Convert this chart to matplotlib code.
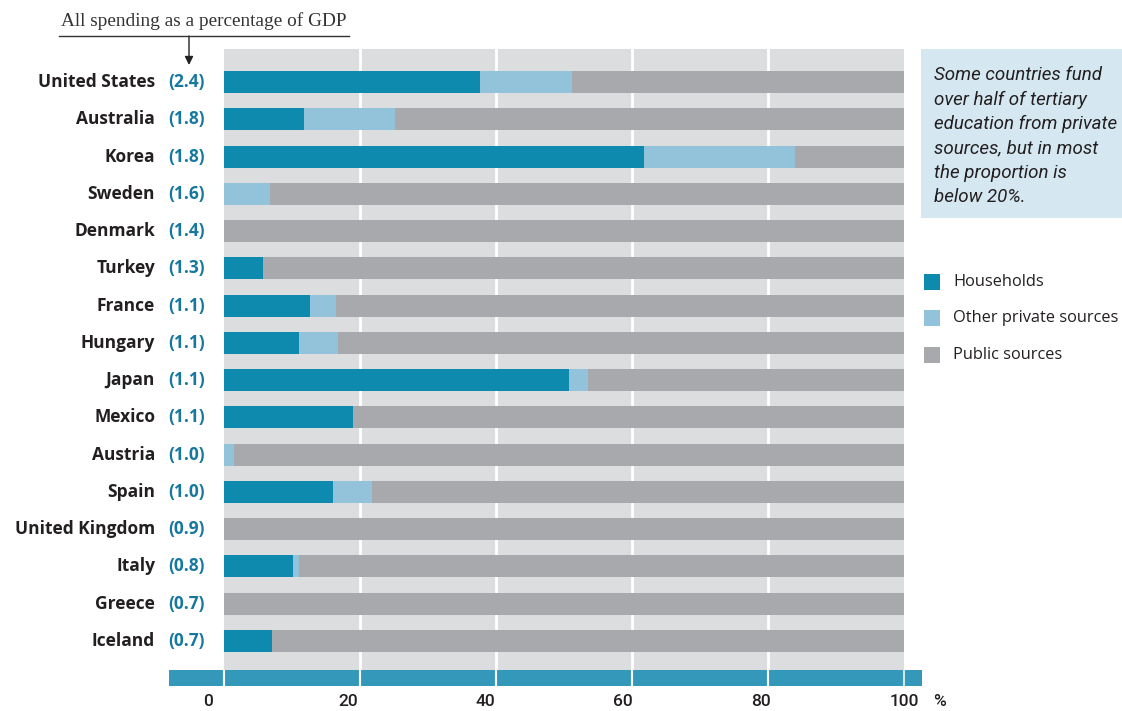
import matplotlib
matplotlib.use("Agg")
import matplotlib.pyplot as plt
import matplotlib.transforms as mtransforms
from matplotlib.patches import Rectangle, FancyArrowPatch
from matplotlib.lines import Line2D

countries = ["United States", "Australia", "Korea", "Sweden", "Denmark", "Turkey",
             "France", "Hungary", "Japan", "Mexico", "Austria", "Spain",
             "United Kingdom", "Italy", "Greece", "Iceland"]
gdp_labels = ["(2.4)", "(1.8)", "(1.8)", "(1.6)", "(1.4)", "(1.3)", "(1.1)", "(1.1)",
              "(1.1)", "(1.1)", "(1.0)", "(1.0)", "(0.9)", "(0.8)", "(0.7)", "(0.7)"]
households = [37.7, 11.8, 61.8, 0.0, 0.0, 5.7, 12.6, 11.1, 50.7, 19.0, 0.0, 16.1,
              0.0, 10.1, 0.0, 7.1]
other_private = [13.5, 13.3, 22.2, 6.8, 0.0, 0.0, 3.8, 5.7, 2.8, 0.0, 1.5, 5.7,
                 0.0, 1.0, 0.0, 0.0]
public = [100 - h - o for h, o in zip(households, other_private)]
xticks = [0, 20, 40, 60, 80, 100]
series_names = ["Households", "Other private sources", "Public sources"]

C_HH = "#0e8aae"
C_OT = "#93c3da"
C_PU = "#a8a9ad"
C_BG = "#dcdddf"
C_BAND = "#3398b9"
C_VAL = "#17789f"
C_TXT = "#231f20"

W, H = 1122, 711
fig = plt.figure(figsize=(W / 100, H / 100), dpi=100)

def fx(px):
    return px / W

def fy(py):
    return 1 - py / H

# main panel: x 224..904, y 49..670 (pixels from top)
ax = fig.add_axes([fx(224), fy(670), fx(904) - fx(224), fy(49) - fy(670)])
n = len(countries)
ypos = list(range(n))
ax.set_xlim(0, 100)
ax.set_ylim(n - 1 + 0.778, -0.885)
ax.set_facecolor(C_BG)
for s in ax.spines.values():
    s.set_visible(False)
ax.set_xticks([])
ax.set_yticks([])
for t in xticks[1:-1]:
    ax.axvline(t, color="white", lw=2, zorder=1)

bh = 0.59
left2 = [h for h in households]
left3 = [h + o for h, o in zip(households, other_private)]
ax.barh(ypos, households, height=bh, color=C_HH, zorder=2, label=series_names[0])
ax.barh(ypos, other_private, left=left2, height=bh, color=C_OT, zorder=2, label=series_names[1])
ax.barh(ypos, public, left=left3, height=bh, color=C_PU, zorder=2, label=series_names[2])

# labels left
tr = mtransforms.blended_transform_factory(fig.transFigure, ax.transData)
lab_font = ["Open Sans", "DejaVu Sans"]
for i, (c, g) in enumerate(zip(countries, gdp_labels)):
    ax.text(fx(155), i, c, transform=tr, ha="right", va="center", fontsize=12.5,
            fontweight="bold", color=C_TXT, family=lab_font, clip_on=False)
    ax.text(fx(168), i, g, transform=tr, ha="left", va="center", fontsize=12.5,
            fontweight="bold", color=C_VAL, family=lab_font, clip_on=False)

# bottom band
x0px, x1px = 169, 922
scale = (904 - 224) / 100.0
bx = fig.add_axes([fx(x0px), fy(686), fx(x1px) - fx(x0px), fy(670) - fy(686)])
bx.set_xlim((x0px - 224) / scale, (x1px - 224) / scale)
bx.set_ylim(0, 1)
bx.set_facecolor(C_BAND)
for s in bx.spines.values():
    s.set_visible(False)
bx.set_yticks([])
for t in xticks:
    bx.axvline(t, color="white" if t < 100 else "#cfe6ef", lw=1.5)
bx.set_xticks(xticks)
tick_font = ["Roboto", "DejaVu Sans"]
bx.set_xticklabels([str(t) for t in xticks], fontsize=12.5, color=C_TXT,
                   family=tick_font, fontweight="medium")
bx.tick_params(axis="x", length=0, pad=6)
offsets_px = [-16, -12, -11, -9, -7, 0]
for lab, dx in zip(bx.get_xticklabels(), offsets_px):
    lab.set_transform(lab.get_transform() +
                      mtransforms.ScaledTranslation(dx / 100, 0, fig.dpi_scale_trans))
fig.text(fx(940), fy(702), "%", ha="center", va="center", fontsize=12.5,
         color=C_TXT, family=tick_font, fontweight="medium")

# title with underline and arrow
fig.text(fx(204), fy(21), "All spending as a percentage of GDP", ha="center",
         va="center", fontsize=13.9, color="#333333",
         family=["Liberation Serif", "DejaVu Serif"])
fig.add_artist(Line2D([fx(59), fx(349)], [fy(36), fy(36)], transform=fig.transFigure,
                      color="#333333", lw=1))
fig.add_artist(FancyArrowPatch(
    (fx(189), fy(36)), (fx(189), fy(65)), transform=fig.transFigure,
    arrowstyle="-|>,head_length=5,head_width=2.5", color="#222222", lw=1,
    mutation_scale=1, shrinkA=0, shrinkB=0))

# callout box
fig.add_artist(Rectangle((fx(921), fy(218)), fx(1122) - fx(921), fy(49) - fy(218),
                         transform=fig.transFigure, facecolor="#d5e8f1",
                         edgecolor="none"))
fig.text(fx(934), fy(66), "Some countries fund\nover half of tertiary\n"
         "education from private\nsources, but in most\nthe proportion is\nbelow 20%.",
         ha="left", va="top", fontsize=13.5, style="italic", color=C_TXT,
         family=["Roboto", "DejaVu Sans"], linespacing=1.46)

# legend
leg_colors = [C_HH, C_OT, C_PU]
leg_y = [282, 318, 355]
for name, col, yy in zip(series_names, leg_colors, leg_y):
    fig.add_artist(Rectangle((fx(924), fy(yy + 8)), fx(16), fx(16) * W / H,
                             transform=fig.transFigure, facecolor=col,
                             edgecolor="none"))
    fig.text(fx(953), fy(yy), name, ha="left", va="center", fontsize=11.8,
             color=C_TXT, family=lab_font)

fig.savefig("out.png", dpi=100)
